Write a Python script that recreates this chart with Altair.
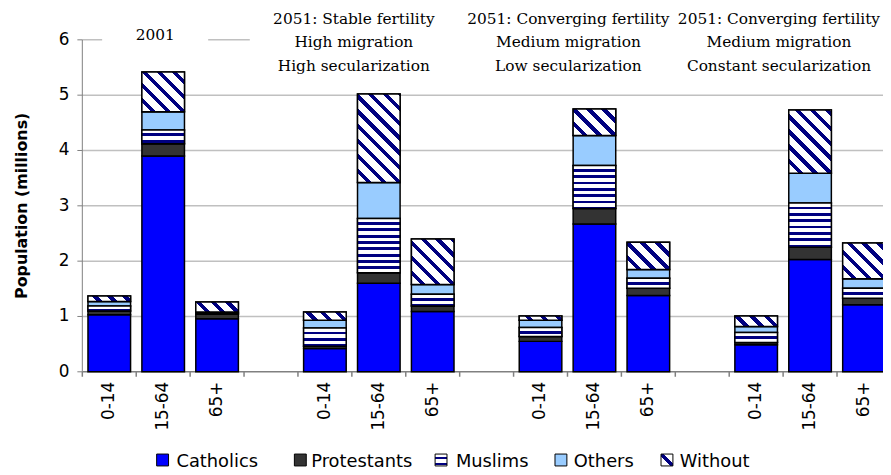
import math
import altair as alt

# ---------------- data (millions) ----------------
age_groups = ["0-14", "15-64", "65+"]
religions = ["Catholics", "Protestants", "Muslims", "Others", "Without"]

catholics   = [1.03, 3.90, 0.96,  0.42, 1.60, 1.09,  0.55, 2.67, 1.38,  0.49, 2.03, 1.21]
protestants = [0.07, 0.22, 0.08,  0.04, 0.19, 0.10,  0.09, 0.28, 0.13,  0.04, 0.22, 0.12]
muslims     = [0.09, 0.25, 0.02,  0.33, 0.98, 0.21,  0.16, 0.78, 0.18,  0.18, 0.80, 0.18]
others      = [0.08, 0.33, 0.02,  0.14, 0.65, 0.18,  0.13, 0.54, 0.16,  0.11, 0.54, 0.17]
without     = [0.10, 0.72, 0.18,  0.15, 1.60, 0.82,  0.08, 0.48, 0.49,  0.19, 1.14, 0.65]

y_ticks = [0, 1, 2, 3, 4, 5, 6]
y_title = "Population (millions)"
annotations = [
    ["2001"],
    ["2051: Stable fertility", "High migration", "High secularization"],
    ["2051: Converging fertility", "Medium migration", "Low secularization"],
    ["2051: Converging fertility", "Medium migration", "Constant secularization"],
]

# ---------------- layout / style ----------------
W, H = 816, 335
P_IN, P_OUT = 0.21, 0.105
PX_PER_M = H / 6.0
N_SLOTS = 15
STEP = W / (N_SLOTS - P_IN + 2 * P_OUT)
BAR_W = STEP * (1 - P_IN)

NAVY = "#000080"
WHITE = "#FFFFFF"
AXIS_GREY = "#808080"
GRID_GREY = "#C0C0C0"
SOLID = {"Catholics": "#0000FF", "Protestants": "#333333", "Muslims": WHITE,
         "Others": "#99CCFF", "Without": WHITE}


def stripe_stops(length, period, dark, phase=0.0):
    """hard-edged white/navy stops along a gradient of `length` pixels"""
    stops = [{"offset": 0, "color": WHITE}]
    if length <= 0:
        return stops + [{"offset": 1, "color": WHITE}]
    k = -1
    while True:
        start = k * period - phase + (period - dark)
        end = start + dark
        k += 1
        if start >= length:
            break
        a, b = max(start, 0.0), min(end, length)
        if b <= a:
            continue
        oa, ob = round(a / length, 5), round(b / length, 5)
        stops += [{"offset": oa, "color": WHITE}, {"offset": oa, "color": NAVY},
                  {"offset": ob, "color": NAVY}, {"offset": ob, "color": WHITE}]
    stops.append({"offset": 1, "color": WHITE})
    return stops


def horiz_stripes(h, period=6.4, dark=2.9, phase=0.0):
    return {"gradient": "linear", "x1": 0, "y1": 0, "x2": 0, "y2": 1,
            "stops": stripe_stops(h, period, dark, phase)}


def diag_stripes(w, h, period=10.6, dark=3.8, phase=0.0):
    a = w * (w + h) / (w * w + h * h)
    D = (w + h) / math.sqrt(2)
    return {"gradient": "linear", "x1": 0, "y1": 1, "x2": round(a, 5),
            "y2": round(1 - a * h / w, 5), "stops": stripe_stops(D, period, dark, phase)}


# ---------------- build records ----------------
keys = []
bar_keys = []
prefixes = "abcd"
for gi in range(4):
    for ag in age_groups:
        k = prefixes[gi] + "|" + ag
        keys.append(k)
        bar_keys.append(k)
    if gi < 3:
        keys.append("gap" + str(gi))

series = {"Catholics": catholics, "Protestants": protestants, "Muslims": muslims,
          "Others": others, "Without": without}

records = []
patterned = []
for bi, k in enumerate(bar_keys):
    base = 0.0
    for r in religions:
        v = series[r][bi]
        top = base + v
        rec = {"key": k, "religion": r, "y0": round(base, 4), "y1": round(top, 4),
               "fill": SOLID[r]}
        records.append(rec)
        if r in ("Muslims", "Without") and v > 0:
            h = v * PX_PER_M
            grad = horiz_stripes(h) if r == "Muslims" else diag_stripes(BAR_W, h)
            patterned.append((rec, grad))
        base = top

x_scale = alt.Scale(domain=keys, paddingInner=P_IN, paddingOuter=P_OUT)
y_scale = alt.Scale(domain=[0, 6], nice=False)


def X(field="key:N"):
    return alt.X(field, sort=keys, scale=x_scale, axis=None)


def Y(field):
    return alt.Y(field, scale=y_scale, axis=None)


layers = []

# horizontal gridlines
layers.append(alt.Chart(alt.Data(values=[{"v": v} for v in y_ticks[1:]])).mark_rule(
    color=GRID_GREY, strokeWidth=1.5
).encode(y=Y("v:Q"), x=alt.value(0), x2=alt.value(W)))

# white boxes behind the scenario captions (they hide the top gridline)
for x0, x1 in [(20, 127), (169, W)]:
    layers.append(alt.Chart(alt.Data(values=[{"b": 1}])).mark_rect(fill="white").encode(
        x=alt.value(x0), x2=alt.value(x1), y=alt.value(-8), y2=alt.value(6)))

# axis lines
layers.append(alt.Chart(alt.Data(values=[{"b": 1}])).mark_rule(
    color=AXIS_GREY, strokeWidth=1).encode(x=alt.value(0), y=alt.value(0), y2=alt.value(H)))
layers.append(alt.Chart(alt.Data(values=[{"b": 1}])).mark_rule(
    color=AXIS_GREY, strokeWidth=1.5).encode(x=alt.value(0), x2=alt.value(W), y=alt.value(H)))

# y ticks + labels
ytick_data = alt.Data(values=[{"v": v} for v in y_ticks])
layers.append(alt.Chart(ytick_data).mark_rule(color=AXIS_GREY, strokeWidth=1).encode(
    y=Y("v:Q"), x=alt.value(-5), x2=alt.value(0)))
layers.append(alt.Chart(ytick_data).mark_text(
    font="DejaVu Sans", fontSize=17, color="black", align="right", baseline="middle"
).encode(y=Y("v:Q"), x=alt.value(-13), text="v:Q"))

# x ticks at band boundaries + labels
layers.append(alt.Chart(alt.Data(values=[{"key": k} for k in keys])).mark_rule(
    color=AXIS_GREY, strokeWidth=1.5, xOffset=-STEP / 2
).encode(x=X(), y=alt.value(H), y2=alt.value(H + 5)))
layers.append(alt.Chart(alt.Data(values=[{"key": keys[-1]}])).mark_rule(
    color=AXIS_GREY, strokeWidth=1.5, xOffset=STEP / 2
).encode(x=X(), y=alt.value(H), y2=alt.value(H + 5)))
layers.append(alt.Chart(alt.Data(values=[{"key": k, "lab": k.split("|")[1]} for k in bar_keys])).mark_text(
    font="DejaVu Sans", fontSize=17, color="black", angle=270, align="right", baseline="middle"
).encode(x=X(), y=alt.value(H + 10), text="lab:N"))

# stacked bars
layers.append(alt.Chart(alt.Data(values=records)).mark_bar(
    stroke="black", strokeWidth=1.5
).encode(
    x=X(), y=Y("y0:Q"), y2="y1:Q",
    fill=alt.Fill("fill:N", scale=None, legend=None),
))

# hatched segments (Muslims: horizontal stripes, Without: diagonal stripes)
for rec, grad in patterned:
    layers.append(alt.Chart(alt.Data(values=[rec])).mark_bar(
        fill=grad, stroke="black", strokeWidth=1.5
    ).encode(x=X(), y=Y("y0:Q"), y2="y1:Q"))

# y-axis title
layers.append(alt.Chart(alt.Data(values=[{"t": y_title}])).mark_text(
    font="DejaVu Sans", fontSize=16, fontWeight="bold", color="black", angle=270,
    align="center", baseline="middle"
).encode(x=alt.value(-61), y=alt.value(H / 2), text="t:N"))

# scenario captions
cap_x = [73.7, 274, 490.5, 703]
cap_y = {1: [0.3], 3: [-16.3, 7.7, 31.3]}
for gi, lines in enumerate(annotations):
    ys = cap_y[len(lines)]
    for li, txt in enumerate(lines):
        layers.append(alt.Chart(alt.Data(values=[{"t": txt}])).mark_text(
            font="DejaVu Serif", fontSize=15.5, color="black", align="center", baseline="alphabetic"
        ).encode(x=alt.value(cap_x[gi]), y=alt.value(ys[li]), text="t:N"))

# legend
leg_sym_x = [75, 214, 356, 477, 584]
leg_txt_x = [95, 231, 377, 496, 603]
SYM = 12
leg_fill = {
    "Catholics": SOLID["Catholics"], "Protestants": SOLID["Protestants"],
    "Muslims": horiz_stripes(SYM, period=6.0, dark=2.6, phase=0.5),
    "Others": SOLID["Others"],
    "Without": diag_stripes(SYM, SYM, period=10.6, dark=4.0, phase=0.1),
}
for i, r in enumerate(religions):
    layers.append(alt.Chart(alt.Data(values=[{"t": r}])).mark_rect(
        stroke="black", strokeWidth=1, fill=leg_fill[r]
    ).encode(x=alt.value(leg_sym_x[i]), x2=alt.value(leg_sym_x[i] + SYM),
             y=alt.value(418), y2=alt.value(418 + SYM)))
    layers.append(alt.Chart(alt.Data(values=[{"t": r}])).mark_text(
        font="DejaVu Sans", fontSize=18, color="black", align="left", baseline="alphabetic"
    ).encode(x=alt.value(leg_txt_x[i]), y=alt.value(431), text="t:N"))

# the plot runs past the right edge of the picture: a negative right padding
# keeps the SVG inside the window and clips the last bar like the original.
chart = alt.layer(*layers).properties(
    width=W, height=H,
    autosize=alt.AutoSizeParams(type="none"),
    padding={"left": 75, "top": 30, "right": -8, "bottom": 100},
    background="white",
).configure_view(stroke=None)

chart.save("out.html", embed_options={"renderer": "svg", "actions": False})
